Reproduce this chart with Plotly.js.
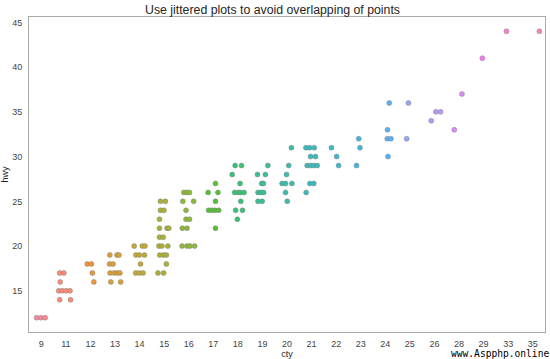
<!DOCTYPE html>
<html>
<head>
<meta charset="utf-8">
<script src="https://cdn.plot.ly/plotly-3.0.1.min.js"></script>
<style>html,body{margin:0;padding:0;background:#fff;}#chart{width:550px;height:359px;}</style>
</head>
<body>
<div id="chart"></div>
<script>
// ---- data ----
const ctyCategories = [9, 11, 12, 13, 14, 15, 16, 17, 18, 19, 20, 21, 22, 23, 24, 25, 26, 28, 29, 33, 35];
const yTicks = [15, 20, 25, 30, 35, 40, 45];

const cty = [
  9,9,9,
  11,11,11,11,11,11,11,11,11,
  12,12,12,12,
  13,13,13,13,13,13,13,13,13,13,13,
  14,14,14,14,14,14,14,14,14,14,
  15,15,15,15,15,15,15,15,15,15,15,15,15,15,15,15,15,15,15,
  16,16,16,16,16,16,16,16,16,16,16,16,16,16,
  17,17,17,17,17,17,17,17,17,
  18,18,18,18,18,18,18,18,18,18,18,18,
  19,19,19,19,19,19,19,19,19,19,
  20,20,20,20,20,20,20,20,
  21,21,21,21,21,21,21,21,21,21,21,21,
  22,22,22,
  23,23,23,
  24,24,24,24,24,
  25,25,
  26,26,26,
  28,28,
  29,
  33,
  35
];
const hwy = [
  12,12,12,
  17,17,16,15,15,15,15,14,14,
  18,18,17,16,
  19,19,19,18,18,17,17,17,17,16,16,
  20,20,20,19,19,19,18,17,17,17,
  25,25,24,24,23,22,22,22,21,21,20,20,20,19,19,19,18,17,17,
  26,26,26,25,25,24,23,23,22,22,20,20,20,20,
  27,26,26,25,24,24,24,24,22,
  29,29,28,27,26,26,26,26,25,24,24,23,
  29,28,28,27,27,26,26,26,25,25,
  31,29,28,27,27,27,26,25,
  31,31,31,30,30,29,29,29,29,27,27,26,
  31,30,29,
  32,31,29,
  36,33,32,32,30,
  36,32,
  35,35,34,
  37,33,
  41,
  44,
  44
];
// horizontal jitter of each dot, in category widths
const jitter = [
  -0.19,-0.01,0.16,
  -0.25,-0.08,-0.23,-0.29,-0.15,0.01,0.17,-0.25,0.19,
  -0.13,0.04,0.08,0.14,
  -0.21,0.08,0.16,-0.22,-0.08,-0.20,-0.03,0.09,0.20,-0.17,0.23,
  -0.22,0.11,0.22,-0.15,-0.01,0.20,0.04,-0.16,-0.01,0.14,
  -0.15,0.05,-0.15,-0.01,-0.19,-0.19,0.12,0.19,-0.19,-0.04,-0.21,-0.09,0.15,-0.18,-0.02,0.09,0.09,-0.25,-0.02,
  -0.20,-0.09,0.03,-0.24,0.20,-0.11,-0.11,0.03,-0.26,-0.07,-0.27,-0.07,0.05,0.24,
  0.09,-0.21,0.19,0.09,-0.19,-0.06,0.07,0.22,0.09,
  -0.11,0.15,-0.23,0.09,-0.13,0.01,0.11,0.25,0.12,-0.09,0.19,-0.02,
  0.22,-0.20,0.12,-0.03,0.04,-0.18,-0.06,0.05,-0.18,-0.01,
  0.18,0.07,-0.02,-0.20,-0.06,0.20,-0.06,0.01,
  -0.23,-0.08,0.11,-0.04,0.16,-0.18,-0.04,0.09,0.23,-0.07,0.09,-0.22,
  -0.19,0.02,0.10,
  -0.08,-0.03,-0.17,
  0.16,0.09,0.08,0.23,0.11,
  -0.06,-0.13,
  0.06,0.25,-0.13,
  0.12,-0.19,
  -0.05,
  -0.07,
  0.27
];

// ---- seaborn husl palette ----
const M = [[3.2406, -1.5372, -0.4986], [-0.9689, 1.8758, 0.0415], [0.0557, -0.2040, 1.0570]];
const refU = 0.19784, refV = 0.46834, labE = 0.008856, labK = 903.3;
function maxChroma(L, H) {
  const hrad = H * Math.PI / 180, sinH = Math.sin(hrad), cosH = Math.cos(hrad);
  const sub1 = Math.pow(L + 16, 3) / 1560896.0;
  const sub2 = sub1 > labE ? sub1 : L / labK;
  let result = Infinity;
  for (const row of M) {
    const [m1, m2, m3] = row;
    const top = (0.99915 * m1 + 1.05122 * m2 + 1.14460 * m3) * sub2;
    const rb = 0.86330 * m3 - 0.17266 * m2;
    const lb = 0.12949 * m3 - 0.38848 * m1;
    const bottom = (rb * sinH + lb * cosH) * sub2;
    for (const t of [0, 1]) {
      const C = L * (top - 1.05122 * t) / (bottom + 0.17266 * sinH * t);
      if (C > 0 && C < result) result = C;
    }
  }
  return result;
}
function huslToRgb(H, S, L) {
  const C = maxChroma(L, H) / 100 * S;
  const hrad = H * Math.PI / 180;
  const U = Math.cos(hrad) * C, V = Math.sin(hrad) * C;
  const varY = L > labK * labE ? Math.pow((L + 16) / 116, 3) : L / labK;
  const varU = U / (13 * L) + refU, varV = V / (13 * L) + refV;
  const Y = varY;
  const X = -(9 * Y * varU) / ((varU - 4) * varV - varU * varV);
  const Z = (9 * Y - 15 * varV * Y - varV * X) / (3 * varV);
  const f = c => c <= 0.0031308 ? 12.92 * c : 1.055 * Math.pow(c, 1 / 2.4) - 0.055;
  return M.map(r => {
    let v = f(r[0] * X + r[1] * Y + r[2] * Z);
    v = Math.min(1, Math.max(0, v));
    return Math.round(v * 255);
  });
}
function huslPalette(n, h, s, l) {
  const out = [];
  for (let i = 0; i < n; i++) {
    const hue = ((i / n + h) % 1) * 359;
    const c = huslToRgb(hue, s * 99, l * 99);
    out.push('rgb(' + c.join(',') + ')');
  }
  return out;
}
const palette = huslPalette(ctyCategories.length, 0.01, 0.9, 0.7);

const xs = cty.map((c, i) => ctyCategories.indexOf(c) + jitter[i]);
const colors = cty.map(c => palette[ctyCategories.indexOf(c)]);

const font = 'Liberation Sans, Arial, sans-serif';
const trace = {
  type: 'scatter', mode: 'markers',
  x: xs, y: hwy,
  marker: { size: 5, color: colors, line: { width: 0.5, color: 'rgba(128,128,128,0.9)' } },
  hoverinfo: 'skip'
};
const layout = {
  width: 550, height: 359,
  margin: { l: 29, r: 5, t: 17, b: 27 },
  paper_bgcolor: '#fff', plot_bgcolor: '#fff',
  showlegend: false,
  font: { family: font, color: '#262626', size: 9 },
  title: { text: 'Use jittered plots to avoid overlapping of points', font: { size: 12.3, family: font, color: '#262626' },
           x: 0.4955, xref: 'container', xanchor: 'center', y: 0.974, yref: 'container', yanchor: 'middle' },
  xaxis: {
    range: [-0.5, ctyCategories.length - 0.5],
    tickvals: ctyCategories.map((c, i) => i), ticktext: ctyCategories.map(String),
    showgrid: false, zeroline: false, ticks: '', ticklabelstandoff: 3,
    showline: true, mirror: true, linecolor: '#aaaaaa', linewidth: 1,
    tickfont: { size: 9, color: '#444' },
    title: { text: 'cty', font: { size: 9, color: '#262626' }, standoff: 2 }
  },
  yaxis: {
    range: [10.4, 45.6], tickvals: yTicks,
    showgrid: false, zeroline: false, ticks: '', ticklabelstandoff: 4,
    showline: true, mirror: true, linecolor: '#aaaaaa', linewidth: 1,
    tickfont: { size: 9, color: '#444' },
    title: { text: 'hwy', font: { size: 9, color: '#262626' }, standoff: 2 }
  },
  annotations: [{
    text: 'www.Aspphp.online', xref: 'paper', yref: 'paper',
    x: 1.0097, y: -0.0695, xanchor: 'right', yanchor: 'middle', showarrow: false, borderpad: 0,
    font: { family: 'DejaVu Sans Mono, monospace', size: 9.6, color: '#000' }
  }]
};
Plotly.newPlot('chart', [trace], layout, { displayModeBar: false, staticPlot: true });
</script>
</body>
</html>
